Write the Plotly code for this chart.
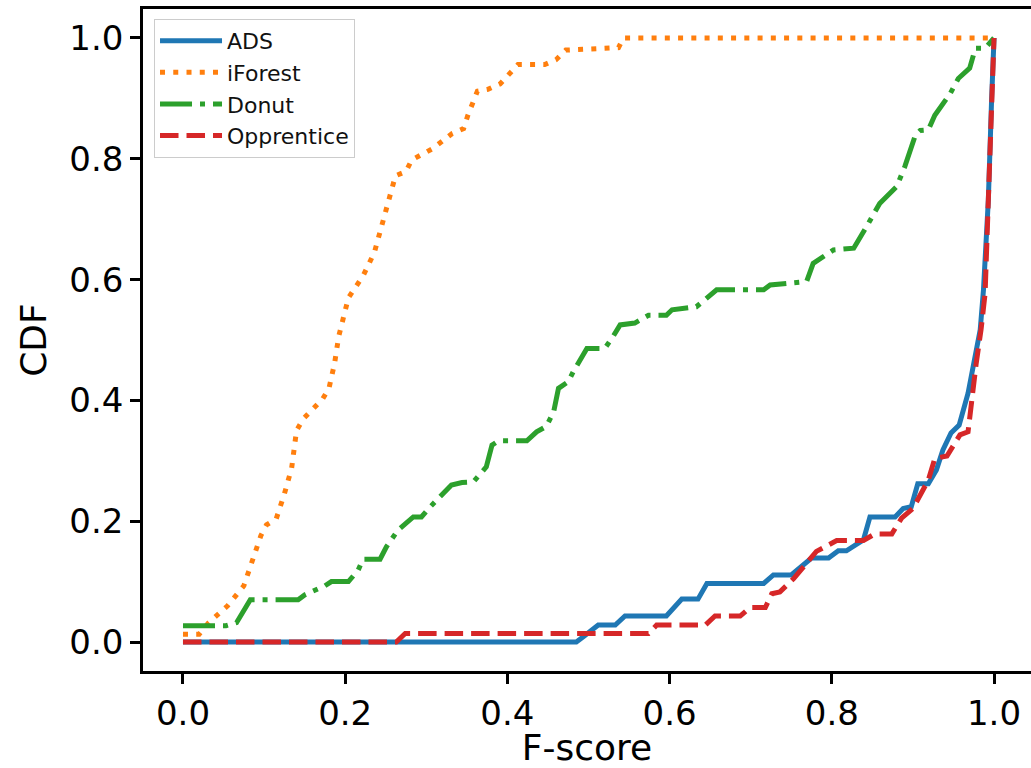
import plotly.graph_objects as go

# ---- data ----
ads_x = [0.0, 0.485, 0.494, 0.512, 0.533, 0.545, 0.596, 0.615, 0.635, 0.646, 0.716, 0.728, 0.75,
         0.775, 0.796, 0.808, 0.818, 0.839, 0.847, 0.878, 0.888, 0.898, 0.906, 0.919, 0.929,
         0.937, 0.947, 0.957, 0.968, 0.976, 0.983, 0.987, 0.993, 0.997, 1.0]
ads_y = [0.0, 0.0, 0.009, 0.028, 0.028, 0.043, 0.043, 0.071, 0.071, 0.097, 0.097, 0.111, 0.111,
         0.139, 0.139, 0.151, 0.151, 0.169, 0.207, 0.207, 0.221, 0.224, 0.262, 0.262, 0.285,
         0.318, 0.346, 0.359, 0.412, 0.467, 0.517, 0.583, 0.732, 0.897, 1.0]

iforest_x = [0.0, 0.02, 0.031, 0.055, 0.075, 0.085, 0.096, 0.103, 0.115, 0.125, 0.134, 0.14,
             0.148, 0.172, 0.18, 0.187, 0.192, 0.204, 0.222, 0.236, 0.245, 0.254, 0.262, 0.275,
             0.282, 0.308, 0.332, 0.346, 0.351, 0.363, 0.376, 0.391, 0.413, 0.446, 0.46, 0.472,
             0.537, 0.543, 1.0]
iforest_y = [0.013, 0.013, 0.031, 0.06, 0.093, 0.135, 0.176, 0.194, 0.204, 0.245, 0.288, 0.35,
             0.369, 0.402, 0.42, 0.462, 0.506, 0.57, 0.606, 0.645, 0.687, 0.729, 0.772, 0.779,
             0.798, 0.817, 0.842, 0.85, 0.871, 0.912, 0.915, 0.924, 0.956, 0.956, 0.964, 0.98,
             0.984, 1.0, 1.0]

donut_x = [0.0, 0.053, 0.066, 0.083, 0.142, 0.15, 0.175, 0.183, 0.204, 0.216, 0.222, 0.243,
           0.251, 0.265, 0.284, 0.294, 0.305, 0.331, 0.344, 0.358, 0.374, 0.381, 0.389, 0.424,
           0.436, 0.448, 0.457, 0.463, 0.475, 0.481, 0.498, 0.52, 0.529, 0.539, 0.557, 0.574,
           0.596, 0.603, 0.633, 0.658, 0.716, 0.724, 0.769, 0.777, 0.802, 0.827, 0.843, 0.859,
           0.88, 0.89, 0.903, 0.909, 0.919, 0.927, 0.946, 0.956, 0.97, 0.977, 0.989, 1.0]
donut_y = [0.027, 0.027, 0.032, 0.07, 0.07, 0.078, 0.093, 0.1, 0.1, 0.119, 0.137, 0.137,
           0.158, 0.185, 0.207, 0.207, 0.224, 0.26, 0.264, 0.265, 0.29, 0.326, 0.333, 0.333,
           0.348, 0.357, 0.381, 0.42, 0.431, 0.447, 0.486, 0.486, 0.503, 0.525, 0.528, 0.541,
           0.541, 0.55, 0.555, 0.583, 0.583, 0.591, 0.597, 0.627, 0.649, 0.652, 0.688, 0.726,
           0.754, 0.787, 0.839, 0.847, 0.848, 0.872, 0.908, 0.933, 0.95, 0.983, 0.983, 1.0]

opp_x = [0.0, 0.263, 0.274, 0.574, 0.584, 0.644, 0.656, 0.687, 0.699, 0.718, 0.726, 0.736,
         0.753, 0.781, 0.806, 0.839, 0.853, 0.874, 0.886, 0.9, 0.919, 0.927, 0.942, 0.958,
         0.968, 0.972, 0.978, 0.984, 0.989, 0.993, 0.997, 1.0]
opp_y = [0.0, 0.0, 0.014, 0.014, 0.028, 0.028, 0.043, 0.043, 0.057, 0.057, 0.08, 0.083,
         0.105, 0.15, 0.168, 0.168, 0.179, 0.179, 0.205, 0.221, 0.268, 0.304, 0.308, 0.343,
         0.348, 0.401, 0.461, 0.517, 0.577, 0.732, 0.897, 1.0]

names = ["ADS", "iForest", "Donut", "Opprentice"]
colors = ["#1f77b4", "#ff7f0e", "#2ca02c", "#d62728"]
dashes = ["solid", "5px,8.25px", "32px,8px,5px,8px", "18.5px,8px"]
xtick_vals = [0.0, 0.2, 0.4, 0.6, 0.8, 1.0]
ytick_vals = [0.0, 0.2, 0.4, 0.6, 0.8, 1.0]

series = [(ads_x, ads_y), (iforest_x, iforest_y), (donut_x, donut_y), (opp_x, opp_y)]

fig = go.Figure()
for i, ((xs, ys), nm, c, d) in enumerate(zip(series, names, colors, dashes)):
    fig.add_trace(go.Scatter(x=xs, y=ys, mode="lines", name=nm, legendgroup=str(i),
                             line=dict(color=c, width=5, dash=d)))

font_family = "DejaVu Sans"
fig.update_layout(
    width=1031, height=768,
    margin=dict(l=143, r=0, t=9, b=97, pad=0),
    paper_bgcolor="white", plot_bgcolor="white",
    font=dict(family=font_family, color="black", size=34),
    showlegend=True,
    legend=dict(x=0.0124, y=0.985, xanchor="left", yanchor="top",
                bgcolor="rgba(255,255,255,0.8)", bordercolor="#cccccc", borderwidth=1,
                font=dict(family=font_family, size=22, color="#111111"),
                tracegroupgap=0, itemwidth=62),
    xaxis=dict(range=[-0.0493, 1.0456], tickvals=xtick_vals, tickformat=".1f",
               showgrid=False, zeroline=False, showline=True, mirror=True,
               linecolor="black", linewidth=2.5, ticks="outside", ticklen=10,
               tickwidth=2.5, tickcolor="black",
               title=dict(text="F-score", font=dict(size=36), standoff=6)),
    yaxis=dict(range=[-0.048, 1.048], tickvals=ytick_vals, tickformat=".1f",
               showgrid=False, zeroline=False, showline=True, mirror=False,
               linecolor="black", linewidth=2.5, ticks="outside", ticklen=10,
               tickwidth=2.5, tickcolor="black",
               title=dict(text="CDF", font=dict(size=36), standoff=12)),
)

fig.write_html("out.html", config={"displayModeBar": False},
               post_script="document.body.style.margin='0';document.body.style.overflow='hidden';")
